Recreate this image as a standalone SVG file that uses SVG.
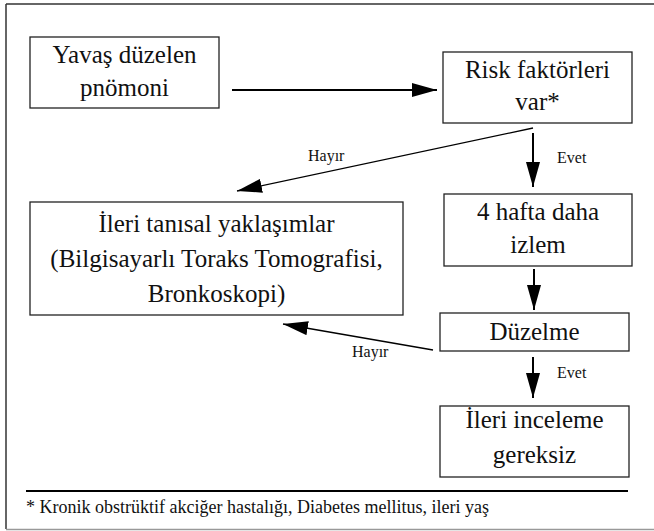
<svg xmlns="http://www.w3.org/2000/svg" width="654" height="531" viewBox="0 0 654 531" font-family="Liberation Serif, DejaVu Serif, serif">
<style>
.box{fill:#fff;stroke:#222;stroke-width:1.3}
.t{font-size:25px;text-anchor:middle;fill:#111}
.s{font-size:16px;fill:#111}
.f{font-size:18px;fill:#111}
.c{stroke:#000;fill:none}
</style>
<defs>
<marker id="ah" markerUnits="userSpaceOnUse" markerWidth="25" markerHeight="14" refX="25" refY="7" orient="auto">
<path d="M0,0 L25,7 L0,14 z" fill="#000"/>
</marker>
</defs>
<rect x="0" y="0" width="654" height="531" fill="#fff"/>
<g id="frame">
<line x1="6" y1="4" x2="654" y2="4" stroke="#333" stroke-width="1.5"/>
<line x1="6" y1="4" x2="6" y2="529" stroke="#333" stroke-width="1.5"/>
<line x1="6" y1="529.5" x2="654" y2="529.5" stroke="#999" stroke-width="1.5"/>
<line x1="26" y1="491" x2="628" y2="491" stroke="#000" stroke-width="2"/>
</g>
<g id="n1">
<rect class="box" x="30" y="37" width="189" height="71"/>
<text class="t" x="124.5" y="63" font-family="Liberation Serif, serif">Yavaş düzelen</text>
<text class="t" x="124.5" y="96" font-family="Liberation Serif, serif">pnömoni</text>
</g>
<g id="n2">
<rect class="box" x="443" y="52" width="189" height="71"/>
<text class="t" x="537.5" y="78" font-family="Liberation Serif, serif">Risk faktörleri</text>
<text class="t" x="537.5" y="110" font-family="Liberation Serif, serif">var*</text>
</g>
<g id="n3">
<rect class="box" x="30" y="202" width="373" height="113"/>
<text class="t" x="216.5" y="232" font-family="Liberation Serif, serif">İleri tanısal yaklaşımlar</text>
<text class="t" x="216.5" y="267" font-family="Liberation Serif, serif">(Bilgisayarlı Toraks Tomografisi,</text>
<text class="t" x="216.5" y="302" font-family="Liberation Serif, serif">Bronkoskopi)</text>
</g>
<g id="n4">
<rect class="box" x="444" y="194" width="188" height="72"/>
<text class="t" x="538" y="220" font-family="Liberation Serif, serif">4 hafta daha</text>
<text class="t" x="538" y="253" font-family="Liberation Serif, serif">izlem</text>
</g>
<g id="n5">
<rect class="box" x="440" y="313" width="189" height="38"/>
<text class="t" x="534.5" y="340" font-family="Liberation Serif, serif">Düzelme</text>
</g>
<g id="n6">
<rect class="box" x="440" y="406" width="189" height="71"/>
<text class="t" x="534.5" y="428" font-family="Liberation Serif, serif">İleri inceleme</text>
<text class="t" x="534.5" y="463" font-family="Liberation Serif, serif">gereksiz</text>
</g>
<g id="connectors">
<line class="c" x1="232" y1="90" x2="437" y2="90" stroke-width="2" marker-end="url(#ah)"/>
<line class="c" x1="533" y1="133" x2="533" y2="187" stroke-width="2" marker-end="url(#ah)"/>
<line class="c" x1="533" y1="128" x2="237" y2="191" stroke-width="1.3" marker-end="url(#ah)"/>
<line class="c" x1="534" y1="269" x2="534" y2="310" stroke-width="2" marker-end="url(#ah)"/>
<line class="c" x1="433" y1="350" x2="283" y2="324" stroke-width="1.3" marker-end="url(#ah)"/>
<line class="c" x1="533" y1="357" x2="533" y2="398" stroke-width="2" marker-end="url(#ah)"/>
<text class="s" x="308" y="161" font-family="Liberation Serif, serif">Hayır</text>
<text class="s" x="557" y="163" font-family="Liberation Serif, serif">Evet</text>
<text class="s" x="352" y="357" font-family="Liberation Serif, serif">Hayır</text>
<text class="s" x="557" y="378" font-family="Liberation Serif, serif">Evet</text>
</g>
<g id="footnote">
<text class="f" x="26" y="513" font-family="Liberation Serif, serif">* Kronik obstrüktif akciğer hastalığı, Diabetes mellitus, ileri yaş</text>
</g>
</svg>
